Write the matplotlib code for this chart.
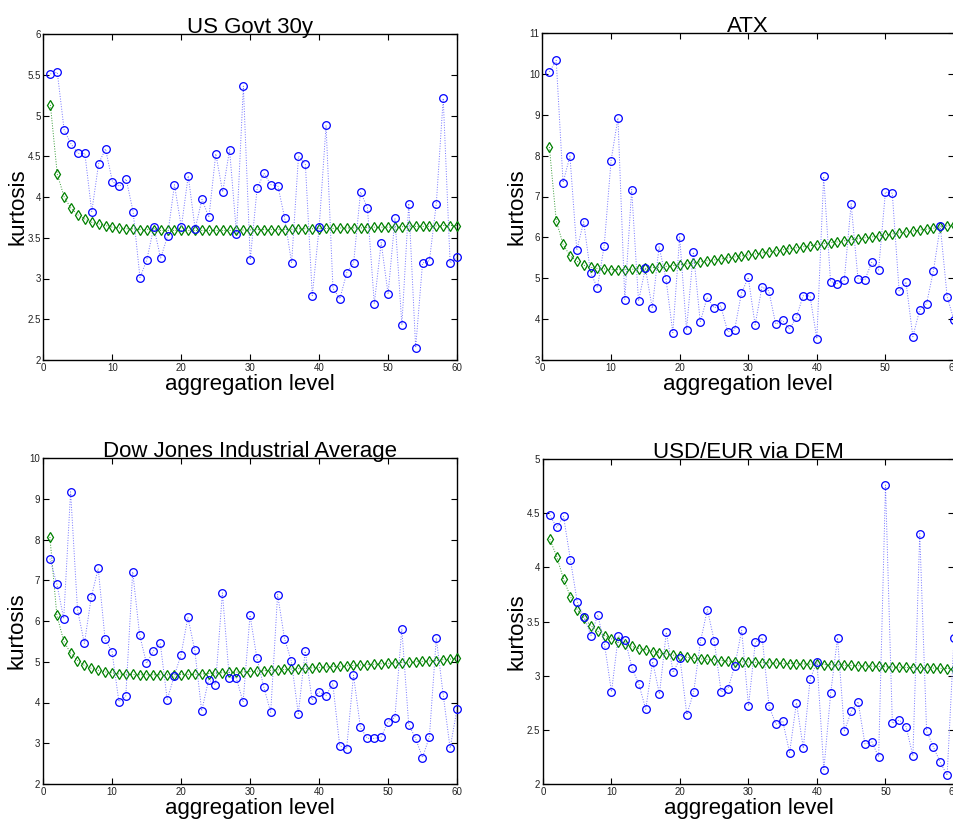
import matplotlib
matplotlib.use("Agg")
import matplotlib.pyplot as plt
import numpy as np

plt.rcParams['font.family'] = ['Liberation Sans', 'DejaVu Sans']

agg_level = list(range(1, 61))

titles = ["US Govt 30y", "ATX", "Dow Jones Industrial Average", "USD/EUR via DEM"]

us_emp = [5.51, 5.53, 4.82, 4.65, 4.535, 4.535, 3.82, 4.41, 4.59, 4.19,
          4.13, 4.22, 3.82, 3.01, 3.23, 3.63, 3.25, 3.52, 4.15, 3.63,
          4.26, 3.61, 3.97, 3.75, 4.53, 4.06, 4.58, 3.55, 5.36, 3.23,
          4.11, 4.29, 4.15, 4.14, 3.74, 3.19, 4.50, 4.40, 2.79, 3.63,
          4.88, 2.88, 2.75, 3.07, 3.19, 4.06, 3.87, 2.69, 3.44, 2.81,
          3.74, 2.43, 3.92, 2.15, 3.19, 3.22, 3.92, 5.21, 3.19, 3.26]
us_model = [5.13, 4.28, 4.00, 3.86, 3.78, 3.73, 3.69, 3.67, 3.65, 3.63,
            3.62, 3.61, 3.61, 3.60, 3.60, 3.60, 3.59, 3.59, 3.59, 3.59,
            3.59, 3.59, 3.59, 3.59, 3.59, 3.59, 3.59, 3.59, 3.595, 3.596,
            3.60, 3.60, 3.60, 3.60, 3.60, 3.605, 3.61, 3.61, 3.61, 3.61,
            3.615, 3.615, 3.62, 3.62, 3.62, 3.62, 3.625, 3.63, 3.63, 3.63,
            3.63, 3.635, 3.64, 3.64, 3.64, 3.64, 3.645, 3.65, 3.65, 3.65]

atx_emp = [10.05, 10.33, 7.34, 7.99, 5.69, 6.38, 5.14, 4.77, 5.80, 7.88,
           8.92, 4.48, 7.17, 4.44, 5.25, 4.27, 5.77, 4.99, 3.67, 6.01,
           3.74, 5.64, 3.93, 4.53, 4.28, 4.32, 3.69, 3.73, 4.63, 5.02,
           3.86, 4.79, 4.69, 3.88, 3.97, 3.75, 4.04, 4.57, 4.57, 3.52,
           7.49, 4.92, 4.87, 4.95, 6.82, 4.99, 4.96, 5.39, 5.20, 7.11,
           7.08, 4.69, 4.91, 3.57, 4.23, 4.38, 5.18, 6.28, 4.55, 3.97]
atx_model = [8.21, 6.41, 5.83, 5.55, 5.42, 5.32, 5.27, 5.24, 5.23, 5.21,
             5.21, 5.21, 5.22, 5.23, 5.24, 5.26, 5.27, 5.29, 5.31, 5.33,
             5.35, 5.38, 5.40, 5.43, 5.45, 5.47, 5.50, 5.52, 5.545, 5.57,
             5.595, 5.62, 5.645, 5.67, 5.695, 5.72, 5.745, 5.77, 5.795, 5.82,
             5.845, 5.87, 5.89, 5.915, 5.94, 5.965, 5.99, 6.01, 6.035, 6.06,
             6.085, 6.11, 6.13, 6.155, 6.18, 6.20, 6.225, 6.25, 6.28, 6.31]

dj_emp = [7.53, 6.91, 6.06, 9.17, 6.28, 5.45, 6.59, 7.29, 5.55, 5.25,
          4.02, 4.16, 7.21, 5.66, 4.96, 5.26, 5.45, 4.07, 4.64, 5.17,
          6.09, 5.28, 3.79, 4.56, 4.44, 6.69, 4.60, 4.61, 4.01, 6.14,
          5.09, 4.38, 3.76, 6.65, 5.57, 5.01, 3.72, 5.26, 4.06, 4.26,
          4.17, 4.46, 2.94, 2.86, 4.67, 3.39, 3.12, 3.12, 3.15, 3.53,
          3.63, 5.81, 3.46, 3.12, 2.65, 3.16, 5.58, 4.19, 2.88, 3.84]
dj_model = [8.06, 6.15, 5.51, 5.21, 5.03, 4.91, 4.84, 4.79, 4.75, 4.73,
            4.70, 4.69, 4.69, 4.68, 4.68, 4.68, 4.68, 4.68, 4.68, 4.685,
            4.69, 4.69, 4.70, 4.71, 4.72, 4.73, 4.74, 4.745, 4.75, 4.76,
            4.77, 4.78, 4.79, 4.80, 4.81, 4.82, 4.83, 4.84, 4.85, 4.86,
            4.87, 4.88, 4.89, 4.90, 4.91, 4.92, 4.93, 4.94, 4.95, 4.96,
            4.97, 4.98, 4.99, 5.00, 5.01, 5.02, 5.03, 5.05, 5.065, 5.08]

fx_emp = [4.48, 4.37, 4.47, 4.07, 3.68, 3.54, 3.37, 3.56, 3.28, 2.85,
          3.37, 3.33, 3.07, 2.92, 2.69, 3.13, 2.83, 3.40, 3.03, 3.16,
          2.64, 2.85, 3.32, 3.61, 3.32, 2.85, 2.88, 3.09, 3.42, 2.72,
          3.31, 3.35, 2.72, 2.55, 2.58, 2.29, 2.75, 2.33, 2.97, 3.13,
          2.13, 2.84, 3.35, 2.49, 2.67, 2.76, 2.37, 2.39, 2.25, 4.76,
          2.56, 2.59, 2.53, 2.26, 4.31, 2.49, 2.34, 2.20, 2.08, 3.35]
fx_model = [4.26, 4.10, 3.89, 3.73, 3.61, 3.53, 3.46, 3.41, 3.37, 3.34,
            3.31, 3.29, 3.27, 3.25, 3.24, 3.22, 3.21, 3.20, 3.19, 3.18,
            3.17, 3.16, 3.155, 3.15, 3.145, 3.14, 3.135, 3.13, 3.128, 3.125,
            3.123, 3.12, 3.118, 3.116, 3.114, 3.112, 3.11, 3.108, 3.106, 3.105,
            3.103, 3.10, 3.098, 3.096, 3.094, 3.092, 3.09, 3.088, 3.085, 3.082,
            3.08, 3.078, 3.076, 3.075, 3.073, 3.071, 3.07, 3.068, 3.066, 3.065]

emp_series = [us_emp, atx_emp, dj_emp, fx_emp]
model_series = [us_model, atx_model, dj_model, fx_model]
ylims = [(2, 6), (3, 11), (2, 10), (2, 5)]
ysteps = [0.5, 1, 1, 0.5]

W, H = 954, 819
fig = plt.figure(figsize=(W / 100, H / 100), dpi=100)

# pixel boxes: (left, right, top, bottom)
boxes = [(43.5, 457, 34, 360), (542.5, 954, 33, 360),
         (43, 457, 458, 784), (543, 954, 459, 784)]

blue = (0, 0, 1)
green = (0, 0.5, 0)

for i in range(4):
    l, r, t, b = boxes[i]
    ax = fig.add_axes([l / W, 1 - b / H, (r - l) / W, (b - t) / H])
    ax.plot(agg_level, model_series[i], linestyle=':', color=(0.2, 0.6, 0.2), linewidth=0.7,
            marker='d', markersize=5.5, markerfacecolor='none',
            markeredgecolor=green, markeredgewidth=0.9, clip_on=False, zorder=3)
    ax.plot(agg_level, emp_series[i], linestyle=':', color=(0.45, 0.45, 1), linewidth=0.7,
            marker='o', markersize=5.5, markerfacecolor='none',
            markeredgecolor=blue, markeredgewidth=0.9, clip_on=False, zorder=4)
    ax.set_xlim(0, 60)
    ax.set_ylim(*ylims[i])
    ax.set_xticks(range(0, 61, 10))
    lo, hi = ylims[i]
    yt = np.arange(lo, hi + 1e-9, ysteps[i])
    ax.set_yticks(yt)
    ax.set_yticklabels([('%g' % v) for v in yt])
    ax.tick_params(direction='in', top=True, right=True, labelsize=7,
                   length=4, width=0.8, pad=2, labelcolor='#222222')
    for s in ax.spines.values():
        s.set_linewidth(1.0)
    ax.set_title(titles[i], fontsize=16, pad=1)
    ax.set_xlabel('aggregation level', fontsize=16, labelpad=1)
    ax.set_ylabel('kurtosis', fontsize=16)
    ax.yaxis.set_label_coords(-0.037, 0.47)

fig.savefig('out.png', dpi=100)
